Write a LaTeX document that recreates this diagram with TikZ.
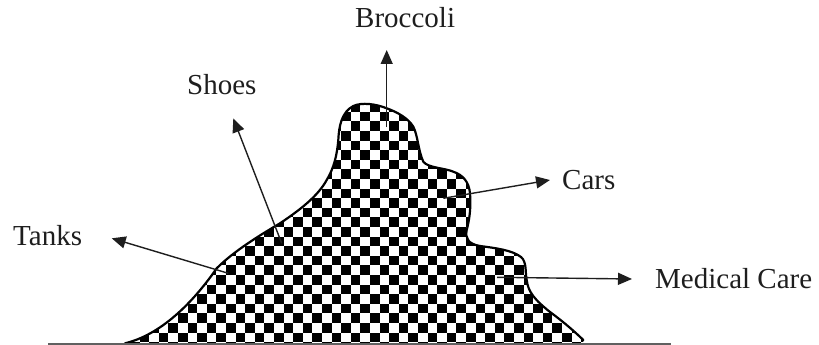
\documentclass[tikz,border=0pt]{standalone}
\usepackage{fontspec}
\setmainfont{Liberation Serif}
\usetikzlibrary{arrows.meta}
\definecolor{ink}{HTML}{1E1E1E}
\definecolor{baseln}{HTML}{606060}
\tikzset{
  lbl/.style={anchor=base west, inner sep=0pt, text=ink, font=\fontsize{29}{34}\selectfont},
  arr/.style={draw=ink, line width=1.4pt, -{Triangle[length=14pt,width=12pt]}},
  outline/.style={draw=black, line width=2.2pt, line join=round, line cap=round}
}
\begin{document}
\begin{tikzpicture}[x=1pt,y=-1pt]
\useasboundingbox (0,0) rectangle (819,345);
\def\mount{(125,343.3) .. controls (160,335) and (192,304) .. (216.7,268.3)
  .. controls (235,250) and (262,234) .. (280,223.3)
  .. controls (300,210) and (318,196) .. (326.7,180)
  .. controls (334,168) and (337,155) .. (338.3,140)
  .. controls (339,125) and (342,112) .. (353.3,106)
  .. controls (362,102) and (376,104) .. (386.7,108.3)
  .. controls (397,112) and (408,118) .. (413.3,126.7)
  .. controls (418,136) and (418,150) .. (423.3,161.7)
  .. controls (428,168) and (445,168) .. (453.3,171.7)
  .. controls (463,175) and (469,182) .. (470,193.3)
  .. controls (471,205) and (470,218) .. (466.7,230)
  .. controls (465,238) and (468,244) .. (480,246)
  .. controls (495,248) and (512,250) .. (521,257)
  .. controls (527,262) and (525,272) .. (526.7,280)
  .. controls (528,292) and (535,300) .. (550,312)
  .. controls (565,323) and (575,332) .. (583.3,340)}
% checkered fill
\begin{scope}
  \clip \mount -- (583.3,343.5) -- (125,343.5) -- cycle;
  \fill[white] (100,90) rectangle (600,345);
  \foreach \i in {-28,...,24} {
    \foreach \j in {-12,-10,...,16} {
      \fill[black] ({370+\i*9.6},{198.1+(\j+mod(abs(\i),2))*9.6}) rectangle +(9.6,9.6);
    }
  }
\end{scope}
\draw[outline] \mount;
% ground line
\coordinate (gl) at (48,344);
\coordinate (gr) at (671,344);
\draw[baseln, line width=1.2pt] (gl) -- (gr);
% labels
\node[lbl] (broccoli) at (355,28) {Broccoli};
\node[lbl] (shoes) at (187,95) {Shoes};
\node[lbl] (tanks) at (13,245) {Tanks};
\node[lbl] (cars) at (562,189) {Cars};
\node[lbl] (medical) at (655,288) {Medical Care};
% arrow ends
\coordinate (bS) at (386.7,127);
\coordinate (bT) at (386.7,50);
\coordinate (sS) at (281.7,243.3);
\coordinate (sT) at (233.3,118.3);
\coordinate (tS) at (228.3,273.3);
\coordinate (tT) at (111.7,238.3);
\coordinate (cS) at (443.3,198.3);
\coordinate (cT) at (550,180);
\coordinate (mS) at (497,277.3);
\coordinate (mT) at (632,279);
\draw[arr] (bS) -- (bT);
\draw[arr] (sS) -- (sT);
\draw[arr] (tS) -- (tT);
\draw[arr] (cS) -- (cT);
\draw[arr] (mS) -- (mT);
\end{tikzpicture}
\end{document}
